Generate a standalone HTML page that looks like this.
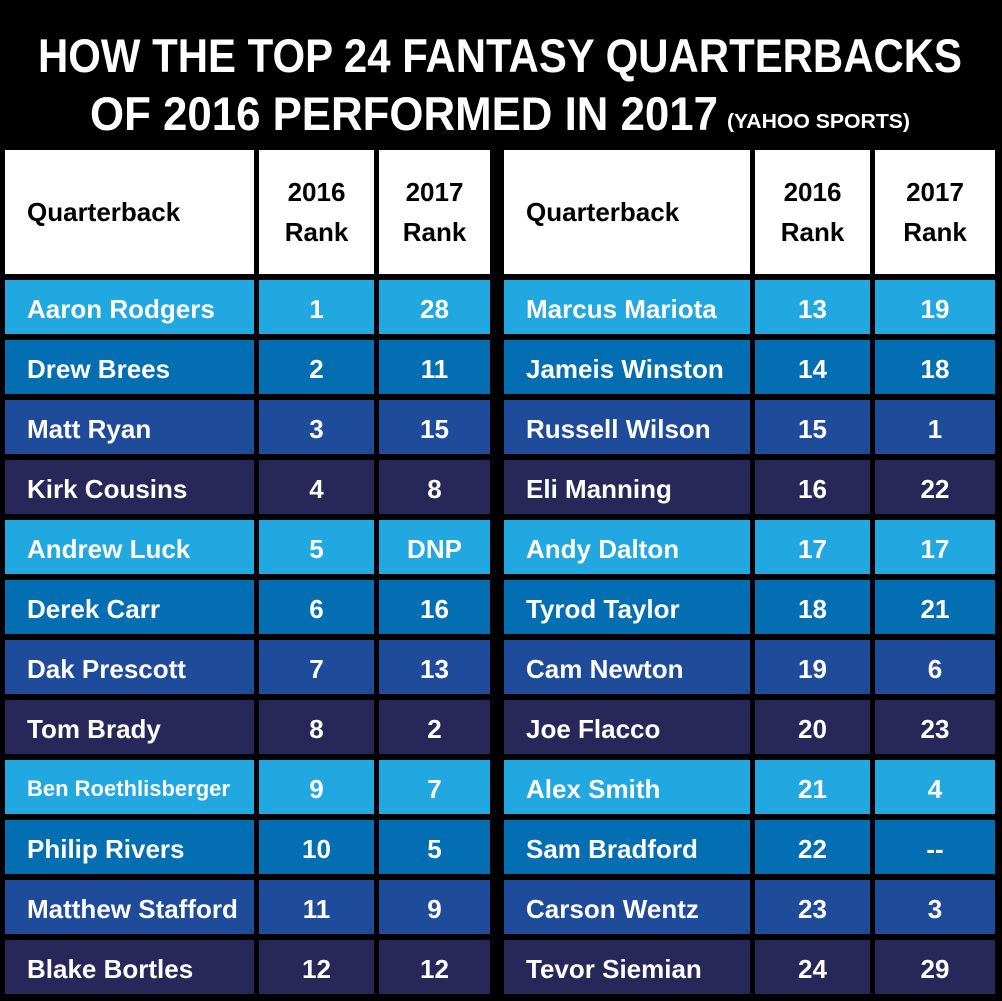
<!DOCTYPE html>
<html><head><meta charset="utf-8"><style>
body{margin:0;width:1002px;height:1001px;background:#000;position:relative;overflow:hidden;font-family:"Liberation Sans",sans-serif;font-weight:bold}
.c{position:absolute;box-sizing:border-box;display:flex;align-items:center;color:#fff;font-size:26px;padding-top:4px}
.h{background:#fff;color:#000;font-size:26px;line-height:40px;padding-top:0}
.n{justify-content:center}
.q{padding-left:22px}
</style></head><body>
<svg width="1002" height="145" style="position:absolute;left:0;top:0">
<text x="38" y="72" font-family="Liberation Sans" font-weight="bold" font-size="47" fill="#fff" textLength="924" lengthAdjust="spacingAndGlyphs">HOW THE TOP 24 FANTASY QUARTERBACKS</text>
<text x="90" y="130" font-family="Liberation Sans" font-weight="bold" font-size="47" fill="#fff" textLength="628" lengthAdjust="spacingAndGlyphs">OF 2016 PERFORMED IN 2017</text>
<text x="727" y="128" font-family="Liberation Sans" font-weight="bold" font-size="20" fill="#fff" textLength="183" lengthAdjust="spacingAndGlyphs">(YAHOO SPORTS)</text>
</svg>
<div id="t"></div>
<script>
const names=["Aaron Rodgers","Drew Brees","Matt Ryan","Kirk Cousins","Andrew Luck","Derek Carr","Dak Prescott","Tom Brady","Ben Roethlisberger","Philip Rivers","Matthew Stafford","Blake Bortles","Marcus Mariota","Jameis Winston","Russell Wilson","Eli Manning","Andy Dalton","Tyrod Taylor","Cam Newton","Joe Flacco","Alex Smith","Sam Bradford","Carson Wentz","Tevor Siemian"];
const rank2016=[1,2,3,4,5,6,7,8,9,10,11,12,13,14,15,16,17,18,19,20,21,22,23,24];
const rank2017=["28","11","15","8","DNP","16","13","2","7","5","9","12","19","18","1","22","17","21","6","23","4","--","3","29"];
const colors=["#21a8e0","#046eb3","#1f4b9b","#27275a"];
const cols=[[[5,254],[259,374],[379,490]],[[504,750],[755,870],[875,995]]];
const root=document.getElementById('t');
function cell(x,y,w,h,cls,txt,bg){const d=document.createElement('div');d.className='c '+cls;d.style.left=x+'px';d.style.top=y+'px';d.style.width=w+'px';d.style.height=h+'px';if(bg)d.style.background=bg;d.innerHTML=txt;root.appendChild(d);return d;}
cols.forEach((cs,s)=>{
 let d=cell(cs[0][0],150,cs[0][1]-cs[0][0],124,'h q','Quarterback');
 
 
 d=cell(cs[1][0],150,cs[1][1]-cs[1][0],124,'h n','<div style="text-align:center">2016<br>Rank</div>');
 
 
 d=cell(cs[2][0],150,cs[2][1]-cs[2][0],124,'h n','<div style="text-align:center">2017<br>Rank</div>');
 
 
 for(let r=0;r<12;r++){const i=s*12+r;const y=280+r*60;const bg=colors[r%4];
  d=cell(cs[0][0],y,cs[0][1]-cs[0][0],54,'q',names[i],bg);
  if(names[i].length>16)d.style.fontSize='22px';
  
  
  d=cell(cs[1][0],y,cs[1][1]-cs[1][0],54,'n',rank2016[i],bg);
  
  
  d=cell(cs[2][0],y,cs[2][1]-cs[2][0],54,'n',rank2017[i],bg);
  
  
 }
});
</script>
</body></html>
